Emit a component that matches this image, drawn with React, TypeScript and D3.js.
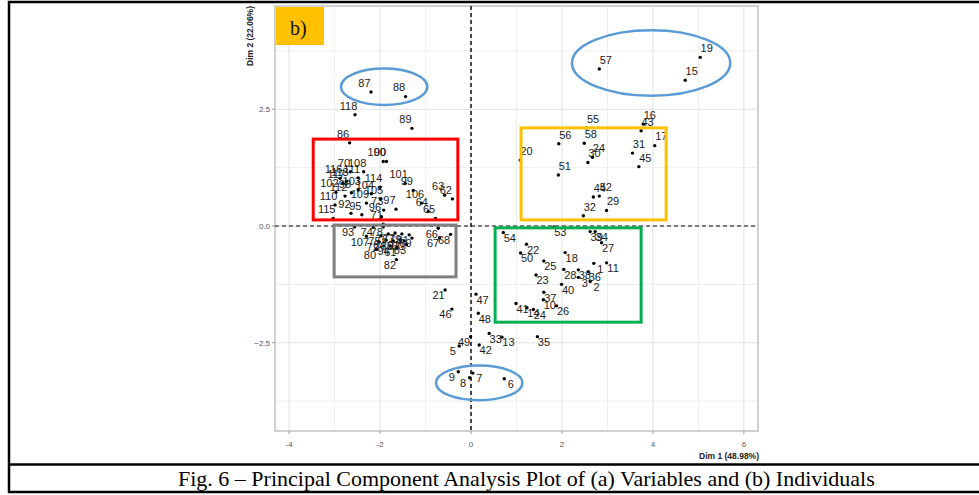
import React from "react";
import * as d3 from "d3";

// Individual scores on the first two principal components
const individuals = [
  "87", "88", "118", "89", "86",
  "57", "19", "15",
  "55", "56", "58", "16", "43", "17", "31", "45", "24", "30", "20", "51", "44", "52", "29", "32",
  "53", "39", "34", "54", "27", "22", "50", "18", "25", "1", "11", "28", "38", "36", "3", "2",
  "23", "40", "37", "10", "26", "41", "14", "24",
  "21", "46", "47", "48", "33", "13", "35", "42", "49", "5", "9", "8", "7", "6",
  "100", "90", "70", "108", "116", "113", "117", "102", "98", "114", "104", "105", "101", "99",
  "106", "64", "63", "62", "65", "110", "109", "92", "95", "115", "97", "96", "71", "73", "112",
  "103", "111",
  "93", "74", "78", "107", "80", "82", "83", "66", "67", "68", "75", "76", "77", "79", "81",
  "84", "85", "91", "94", "61", "60", "69", "72",
];

const dim1 = [
  -2.2, -1.44, -2.55, -1.3, -2.67,
  2.82, 5.04, 4.71,
  2.54, 1.93, 2.49, 3.79, 3.74, 4.04, 3.55, 3.69, 2.67, 2.57, 1.08, 1.92, 2.69, 2.82, 2.98, 2.47,
  1.82, 2.62, 2.73, 0.71, 2.87, 1.22, 1.09, 2.07, 1.6, 2.7, 2.98, 2.04, 2.36, 2.58, 2.36, 2.62,
  1.43, 1.99, 1.6, 1.59, 1.88, 0.99, 1.23, 1.37,
  -0.57, -0.42, 0.11, 0.16, 0.4, 0.68, 1.46, 0.18, -0.01, -0.26, -0.28, -0.03, 0.04, 0.73,
  -1.93, -1.86, -2.65, -2.36, -2.88, -2.74, -2.82, -2.97, -2.63, -2.0, -2.19, -1.99, -1.45, -1.27,
  -1.09, -0.94, -0.58, -0.41, -0.78, -2.99, -2.3, -2.64, -2.4, -3.03, -1.65, -1.97, -1.93, -1.92, -2.77,
  -2.48, -2.48,
  -2.56, -2.15, -1.93, -2.3, -2.08, -1.64, -1.42, -0.72, -0.69, -0.45, -1.98, -1.82, -1.67, -1.52, -1.36,
  -1.87, -1.71, -1.56, -1.78, -1.63, -1.47, -1.3, -2.02,
];

const dim2 = [
  2.87, 2.77, 2.38, 2.09, 1.78,
  3.36, 3.61, 3.12,
  2.1, 1.76, 1.77, 2.18, 2.04, 1.72, 1.56, 1.27, 1.47, 1.36, 1.41, 1.09, 0.62, 0.64, 0.33, 0.22,
  -0.02, -0.12, -0.12, -0.14, -0.36, -0.39, -0.58, -0.57, -0.75, -0.8, -0.79, -0.93, -0.94, -0.98, -1.1, -1.19,
  -1.05, -1.25, -1.42, -1.58, -1.71, -1.66, -1.75, -1.79,
  -1.37, -1.78, -1.46, -1.87, -2.3, -2.38, -2.37, -2.55, -2.37, -2.57, -3.12, -3.25, -3.15, -3.27,
  1.38, 1.38, 1.16, 1.16, 1.02, 0.96, 0.92, 0.72, 0.71, 0.83, 0.69, 0.58, 0.91, 0.76,
  0.49, 0.31, 0.66, 0.58, 0.16, 0.45, 0.49, 0.27, 0.24, 0.16, 0.36, 0.2, 0.04, 0.34, 0.64,
  0.77, 1.03,
  -0.02, -0.02, -0.02, -0.22, -0.5, -0.72, -0.4, -0.05, -0.25, -0.18, -0.21, -0.17, -0.15, -0.17, -0.19,
  -0.3, -0.32, -0.3, -0.43, -0.45, -0.32, -0.26, -0.34,
];

// Axis breaks and titles
const xBreaks = [-4, -2, 0, 2, 4, 6];
const xMinorBreaks = [-3, -1, 1, 3, 5];
const yBreaks = [-2.5, 0, 2.5];
const yMinorBreaks = [-3.75, -1.25, 1.25, 3.75];
const xTitle = "Dim 1 (48.98%)";
const yTitle = "Dim 2 (22.06%)";
const panelTag = "b)";
const caption =
  "Fig. 6 – Principal Component Analysis Plot of (a) Variables and (b) Individuals";

// Cluster boxes, in Dim 1 / Dim 2 units
const boxDim1From = [-3.47, -3.01, 1.1, 0.53];
const boxDim1To = [-0.29, -0.33, 4.29, 3.74];
const boxDim2From = [0.13, -1.09, 0.13, -2.06];
const boxDim2To = [1.86, 0.02, 2.1, -0.04];

// Outlier rings, in Dim 1 / Dim 2 units
const ringDim1 = [-1.91, 3.96, 0.18];
const ringDim2 = [2.98, 3.49, -3.36];
const ringHalfWidth = [0.95, 1.74, 0.95];
const ringHalfHeight = [0.39, 0.7, 0.37];

const W = 979;
const H = 495;
const boxColors = ["#FF0000", "#7F7F7F", "#FFC000", "#00B050"];
const ringColor = "#5B9BD5";
const sans = "'Liberation Sans', Arial, sans-serif";
const serif = "'Liberation Serif', 'Times New Roman', serif";

export default function App() {
  const left = 275;
  const right = 758;
  const top = 6;
  const bottom = 431;
  const x = d3.scaleLinear().domain([-4.31, 6.31]).range([left, right]);
  const y = d3.scaleLinear().domain([-4.39, 4.71]).range([bottom, top]);

  const points = individuals.map((id, i) => ({ id, d1: dim1[i], d2: dim2[i] }));

  return (
    <svg
      width={W}
      height={H}
      viewBox={`0 0 ${W} ${H}`}
      style={{ position: "absolute", left: 0, top: 0, display: "block", background: "#fff" }}
    >
      <rect x={0} y={0} width={W} height={H} fill="#fff" />

      {/* grid */}
      <g>
        {xMinorBreaks.map((v) => (
          <line key={`xm${v}`} x1={x(v)} x2={x(v)} y1={top} y2={bottom} stroke="#eeeeee" strokeWidth={1} />
        ))}
        {yMinorBreaks.map((v) => (
          <line key={`ym${v}`} x1={left} x2={right} y1={y(v)} y2={y(v)} stroke="#eeeeee" strokeWidth={1} />
        ))}
        {xBreaks.map((v) => (
          <line key={`xg${v}`} x1={x(v)} x2={x(v)} y1={top} y2={bottom} stroke="#e2e2e2" strokeWidth={1.1} />
        ))}
        {yBreaks.map((v) => (
          <line key={`yg${v}`} x1={left} x2={right} y1={y(v)} y2={y(v)} stroke="#e2e2e2" strokeWidth={1.1} />
        ))}
      </g>

      {/* panel border */}
      <rect x={left} y={top} width={right - left} height={bottom - top} fill="none" stroke="#cccccc" strokeWidth={1.8} />

      {/* ticks and tick labels */}
      {xBreaks.map((v) => (
        <g key={`xt${v}`}>
          <line x1={x(v)} x2={x(v)} y1={bottom} y2={bottom + 3} stroke="#999" strokeWidth={1} />
          <text x={x(v)} y={447} textAnchor="middle" fontFamily={sans} fontSize={8} fill="#555">
            {v}
          </text>
        </g>
      ))}
      {yBreaks.map((v) => (
        <g key={`yt${v}`}>
          <line x1={left - 3} x2={left} y1={y(v)} y2={y(v)} stroke="#999" strokeWidth={1} />
          <text x={left - 5} y={y(v)} dy="0.35em" textAnchor="end" fontFamily={sans} fontSize={8} fill="#555">
            {d3.format(".1f")(v)}
          </text>
        </g>
      ))}

      {/* axis titles */}
      <text x={759} y={459} textAnchor="end" fontFamily={sans} fontSize={8.5} fontWeight="bold" fill="#222">
        {xTitle}
      </text>
      <text
        transform={`translate(253,${top}) rotate(-90)`}
        textAnchor="end"
        fontFamily={sans}
        fontSize={8.5}
        fontWeight="bold"
        fill="#222"
      >
        {yTitle}
      </text>

      {/* reference lines through the origin */}
      <line x1={left} x2={right} y1={y(0)} y2={y(0)} stroke="#555" strokeWidth={1.5} strokeDasharray="4 3" />
      <line x1={x(0)} x2={x(0)} y1={top} y2={bottom} stroke="#111" strokeWidth={1.5} strokeDasharray="4 3" />

      {/* individuals */}
      <g>
        {points.map((p, i) => (
          <circle key={`p${i}`} cx={x(p.d1)} cy={y(p.d2)} r={1.7} fill="#000" />
        ))}
        {points.map((p, i) => (
          <text
            key={`l${i}`}
            x={x(p.d1) + (p.d1 >= 0 ? 6.5 : -6.5)}
            y={y(p.d2) + (p.d2 >= 0 ? -9 : 5.5)}
            dy="0.35em"
            textAnchor="middle"
            fontFamily={sans}
            fontSize={11}
            fill="#1a1a1a"
          >
            {p.id}
          </text>
        ))}
      </g>

      {/* cluster boxes */}
      {boxDim1From.map((v, i) => (
        <rect
          key={`b${i}`}
          x={x(v)}
          y={y(boxDim2To[i])}
          width={x(boxDim1To[i]) - x(v)}
          height={y(boxDim2From[i]) - y(boxDim2To[i])}
          fill="none"
          stroke={boxColors[i]}
          strokeWidth={3}
        />
      ))}

      {/* outlier rings */}
      {ringDim1.map((v, i) => (
        <ellipse
          key={`e${i}`}
          cx={x(v)}
          cy={y(ringDim2[i])}
          rx={x(v + ringHalfWidth[i]) - x(v)}
          ry={y(ringDim2[i] - ringHalfHeight[i]) - y(ringDim2[i])}
          fill="none"
          stroke={ringColor}
          strokeWidth={2.5}
        />
      ))}

      {/* panel tag */}
      <rect x={276} y={7} width={48} height={38} fill="#FFC000" />
      <text x={290} y={35} fontFamily={serif} fontSize={20} fill="#111">
        {panelTag}
      </text>

      {/* figure frame and caption */}
      <line x1={8} x2={W} y1={2} y2={2} stroke="#000" strokeWidth={2.5} />
      <line x1={9} x2={9} y1={1} y2={493} stroke="#000" strokeWidth={2.5} />
      <line x1={8} x2={W} y1={464.5} y2={464.5} stroke="#000" strokeWidth={2.5} />
      <line x1={8} x2={W} y1={492} y2={492} stroke="#000" strokeWidth={2.5} />
      <text x={178} y={486} fontFamily={serif} fontSize={22} fill="#000">
        {caption}
      </text>
    </svg>
  );
}
